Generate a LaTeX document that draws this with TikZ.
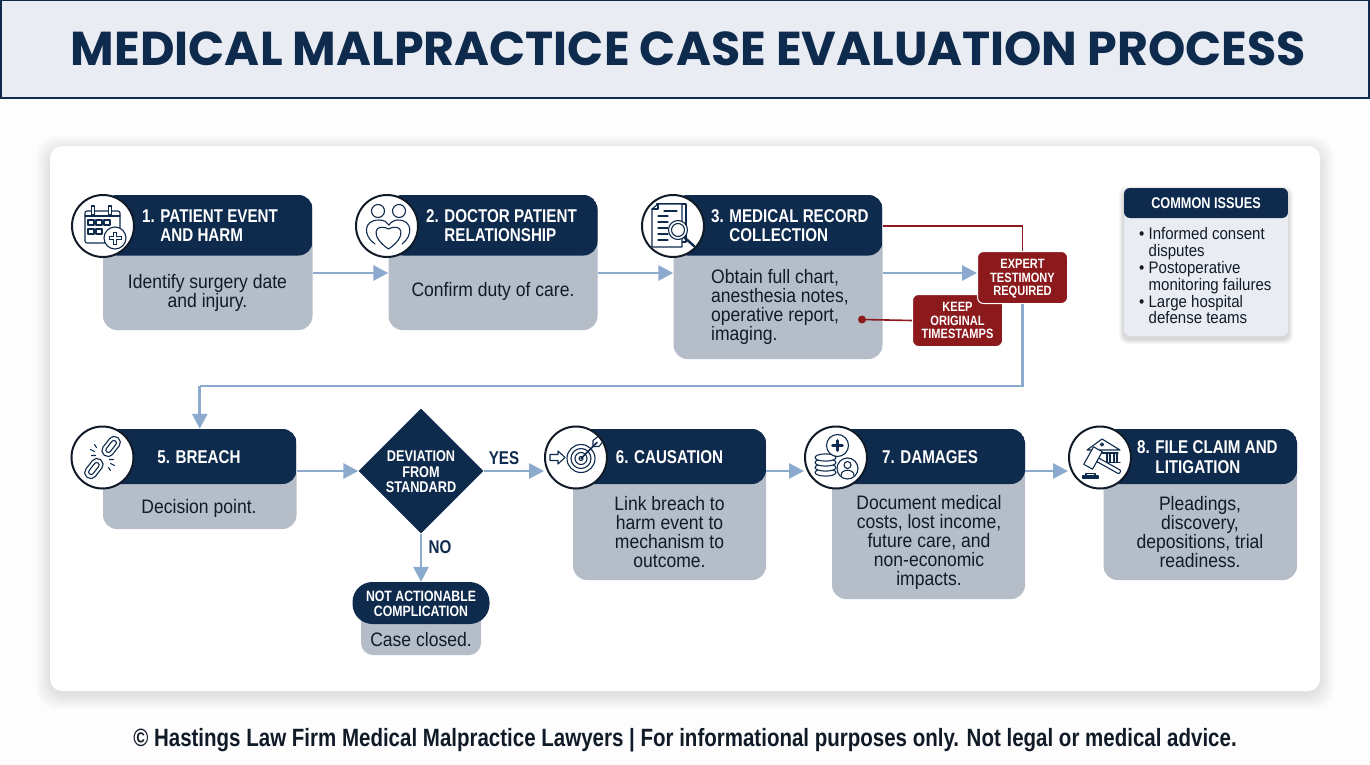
\documentclass[tikz,border=0pt]{standalone}
\usepackage{fontspec}
\usetikzlibrary{arrows.meta,shapes.geometric}
\setmainfont{Liberation Sans}
\newfontfamily\titlefont{Poppins}
\newfontfamily\bodyfont[FakeStretch=0.9]{Liberation Sans}
\newfontfamily\headfont[FakeStretch=0.82]{Liberation Sans}
\definecolor{navy}{HTML}{0E2A4D}
\definecolor{cardgray}{HTML}{B5BDC9}
\definecolor{flowblue}{HTML}{8CA9CE}
\definecolor{alertred}{HTML}{8C1A1C}
\definecolor{barfill}{HTML}{E9EDF3}
\definecolor{pagefill}{HTML}{FDFDFD}
\definecolor{inktext}{HTML}{111B28}
\tikzset{
  cardbody/.style={fill=cardgray, rounded corners=14, inner sep=0, path picture={
    \fill[navy] (path picture bounding box.north west) rectangle ([yshift=-#1]path picture bounding box.north east);}},
  iconring/.style={circle, draw=inktext, fill=white, line width=2, minimum size=62, inner sep=0},
  iconline/.style={draw=navy, line width=1.1, line join=round, line cap=round},
  headtext/.style={text=white, align=left, font=\headfont\bfseries\fontsize{18.5}{19.5}\selectfont, inner sep=0},
  bodytext/.style={text=inktext, align=center, font=\bodyfont\fontsize{19.5}{19}\selectfont, inner sep=0},
  alertbox/.style={fill=alertred, draw=white, line width=1, rounded corners=6, text=white, align=center, inner sep=0,
    font=\headfont\bfseries\fontsize{13.5}{13.8}\selectfont},
  flowline/.style={draw=flowblue, line width=2.8, -{Triangle[width=15,length=15]}},
  flowplain/.style={draw=flowblue, line width=2.8},
  alertline/.style={draw=alertred, line width=1.6},
  branchtext/.style={text=navy, inner sep=0, font=\headfont\bfseries\fontsize{18.5}{19}\selectfont},
}
\begin{document}
\begin{tikzpicture}[x=1pt,y=-1pt]
    \useasboundingbox (0,0) rectangle (1370,765);
    \fill[pagefill] (0,0) rectangle (1370,765);

    \node[fill=barfill, draw=navy, line width=1.6, minimum width=1368, minimum height=98, inner sep=0] (titlebar) at (685,49) {};
    \node[text=navy, inner sep=0, font=\titlefont\bfseries\fontsize{47.5}{49}\selectfont] (titletext) at (688.5,49) {MEDICAL MALPRACTICE CASE EVALUATION PROCESS};

    \foreach \s in {1,...,14}
        \fill[black, opacity=0.007, rounded corners=20] ({50-\s},{146-\s+4}) rectangle ({1320+\s},{691+\s+4});
    \node[fill=white, rounded corners=12, minimum width=1270, minimum height=545, inner sep=0] (panel) at (685,418.5) {};

    \node[cardbody=60.5, minimum width=209.5, minimum height=135] (card1) at (207.75,262.5) {};
    \node[cardbody=60.5, minimum width=209, minimum height=135] (card2) at (493,262.5) {};
    \node[cardbody=60.5, minimum width=209, minimum height=164] (card3) at (778,277) {};
    \node[cardbody=55, minimum width=193.5, minimum height=100] (card5) at (199.75,479) {};
    \node[cardbody=55, minimum width=193, minimum height=151] (card6) at (669.5,504.5) {};
    \node[cardbody=55, minimum width=193, minimum height=170] (card7) at (928.5,514) {};
    \node[cardbody=55, minimum width=193.5, minimum height=151] (card8) at (1200.25,504.5) {};

    \node[iconring] (ring1) at (103,226) {};
    \node[iconring] (ring2) at (387,226) {};
    \node[iconring] (ring3) at (673,226) {};
    \node[iconring] (ring5) at (102.5,457.5) {};
    \node[iconring] (ring6) at (576,457.5) {};
    \node[iconring] (ring7) at (836,457.5) {};
    \node[iconring] (ring8) at (1100,457.5) {};

    \node[diamond, fill=navy, minimum width=125, minimum height=125, inner sep=0] (deviation) at (421,471) {};
    \node[fill=cardgray, rounded corners=12, minimum width=120, minimum height=50, inner sep=0] (closed) at (421,630) {};
    \node[fill=navy, rounded corners=20, minimum width=137, minimum height=42, inner sep=0] (notaction) at (421,603) {};
    \node[alertbox, minimum width=90, minimum height=52] (keep) at (957.5,320.5) {KEEP\\ORIGINAL\\TIMESTAMPS};
    \node[alertbox, minimum width=90, minimum height=52] (expert) at (1022.5,277.5) {\rule{0pt}{12pt}EXPERT\\TESTIMONY\\REQUIRED};

    \coordinate (rowgap) at (199.75,386);
    \coordinate (rowone) at ([yshift=-10.5]card1.east);
    \node[circle, fill=alertred, minimum size=8, inner sep=0] (keepdot) at (862,319.5) {};
    \draw[flowline] (rowone) -- (card2.west |- rowone);
    \draw[flowline] (card2.east |- rowone) -- (card3.west |- rowone);
    \draw[flowline] (card3.east |- rowone) -- (expert.west |- rowone);
    \draw[alertline] (card3.east |- ring3.center) -| (expert.north);
    \draw[alertline] (keepdot) -- (keep.west);
    \draw[flowplain] (expert.south) |- (rowgap);
    \draw[flowline] (rowgap) -- (card5.north);
    \draw[flowline] ([yshift=8]card5.east) -- (deviation.west);
    \draw[flowline] (deviation.east) -- (ring6.west |- deviation.east);
    \draw[flowline] (deviation.south) -- (notaction.north);
    \draw[flowline] (card6.east |- deviation.east) -- (ring7.west |- deviation.east);
    \draw[flowline] (card7.east |- deviation.east) -- (ring8.west |- deviation.east);

    \node[headtext, anchor=west] (head1) at (142,225.5) {1. PATIENT EVENT\\\phantom{1. }AND HARM};
    \node[headtext, anchor=west] (head2) at (426,225.5) {2. DOCTOR PATIENT\\\phantom{2. }RELATIONSHIP};
    \node[headtext, anchor=west] (head3) at (711,225.5) {3. MEDICAL RECORD\\\phantom{3. }COLLECTION};
    \node[headtext] (head5) at (199,457) {5. BREACH};
    \node[headtext] (head6) at (669.5,457) {6. CAUSATION};
    \node[headtext] (head7) at (930,457) {7. DAMAGES};
    \node[headtext, anchor=west] (head8) at (1137,457) {8. FILE CLAIM AND\\\phantom{8. }LITIGATION};

    \node[bodytext] (text1) at (207.5,293) {Identify surgery date\\and injury.};
    \node[bodytext] (text2) at (493,291) {Confirm duty of care.};
    \node[bodytext, align=left, anchor=west] (text3) at (711,306.5) {Obtain full chart,\\anesthesia notes,\\operative report,\\imaging.};
    \node[bodytext] (text5) at (199,508) {Decision point.};
    \node[bodytext] (text6) at (669.5,532) {Link breach to\\harm event to\\mechanism to\\outcome.};
    \node[bodytext] (text7) at (929,542) {Document medical\\costs, lost income,\\future care, and\\non-economic\\impacts.};
    \node[bodytext] (text8) at (1200,532) {Pleadings,\\discovery,\\depositions, trial\\readiness.};

    \node[text=white, align=center, inner sep=0, font=\headfont\bfseries\fontsize{15.5}{15.5}\selectfont] (devtext) at (421,472) {DEVIATION\\FROM\\STANDARD};
    \node[branchtext] (yes) at (504,458) {YES};
    \node[branchtext] (no) at (440,547) {NO};
    \node[text=white, align=center, inner sep=0, font=\headfont\bfseries\fontsize{15}{15.5}\selectfont] (nottext) at (421,604) {NOT ACTIONABLE\\COMPLICATION};
    \node[bodytext] (closedtext) at (421,640) {Case closed.};

    \foreach \s in {1,...,5}
        \fill[black, opacity=0.03, rounded corners=8] ({1124-\s},{188-\s+3}) rectangle ({1288+\s},{336+\s+3});
    \node[cardbody=30, fill=barfill, rounded corners=6, minimum width=164, minimum height=148] (issues) at (1206,262) {};
    \node[headtext, font=\headfont\bfseries\fontsize{15.5}{16}\selectfont] (issuehead) at (1206,203) {COMMON ISSUES};
    \node[bodytext, align=left, anchor=north west, font=\bodyfont\fontsize{16.7}{16.8}\selectfont] (issuelist) at (1139,227.5) {
        \textbullet\ Informed consent\\\phantom{\textbullet\ }disputes\\
        \textbullet\ Postoperative\\\phantom{\textbullet\ }monitoring failures\\
        \textbullet\ Large hospital\\\phantom{\textbullet\ }defense teams};

    \node[text=inktext, inner sep=0, font=\headfont\bfseries\fontsize{25}{27}\selectfont] (footer) at (685,740) {© Hastings Law Firm Medical Malpractice Lawyers | For informational purposes only. Not legal or medical advice.};

    \begin{scope}[shift={(ring1.center)}]
        \draw[iconline, rounded corners=2] (-18,-15) rectangle (17,17);
        \draw[iconline] (-18,-10) -- (17,-10);
        \draw[iconline, fill=white] (-11.5,-20) rectangle (-8.5,-11);
        \draw[iconline, fill=white] (5.5,-20) rectangle (8.5,-11);
        \foreach \a in {-15,-7,1} \draw[iconline] (\a,-6) rectangle ++(6,5);
        \foreach \a in {-15,-7} \draw[iconline] (\a,3) rectangle ++(6,5);
        \draw[iconline, fill=white] (12,12) circle (11);
        \draw[iconline, line width=4.6, line cap=butt] (12,5.5) -- (12,18.5) (5.5,12) -- (18.5,12);
        \draw[white, line width=2.4, line cap=butt] (12,6.5) -- (12,17.5) (6.5,12) -- (17.5,12);
    \end{scope}
    \begin{scope}[shift={(ring2.center)}]
        \draw[iconline] (-9,-15) circle (6.5);
        \draw[iconline] (12,-15) circle (6.5);
        \draw[iconline] (-12,18) .. controls (-24,10) and (-24,-6) .. (-8,-6) .. controls (-3,-6) and (0,-4) .. (2,-1);
        \draw[iconline] (15,18) .. controls (26,10) and (26,-6) .. (11,-6) .. controls (7,-6) and (4,-4) .. (2,-1);
        \draw[iconline, fill=white] (1.5,23) .. controls (-18,10) and (-12,-4) .. (1.5,3) .. controls (15,-4) and (21,10) .. (1.5,23) -- cycle;
    \end{scope}
    \begin{scope}[shift={(ring3.center)}]
        \draw[iconline] (-16,-22) rectangle (13,16);
        \draw[iconline, fill=white] (-21,-17) -- (-21,21) -- (9,21) -- (9,-22) -- (-15,-22) -- cycle;
        \draw[iconline] (-15,-22) -- (-15,-17) -- (-21,-17);
        \foreach \a in {-10,-4,2,8,14} \draw[iconline] (-15,\a) -- (-5,\a);
        \draw[iconline] (-9,-15) -- (4,-15);
        \draw[iconline, line width=2.4] (11,11) -- (21,20);
        \draw[iconline, fill=white] (5,4) circle (9.5);
        \draw[iconline] (5,4) circle (6.5);
    \end{scope}
    \begin{scope}[shift={(ring5.center)}]
        \draw[iconline, rotate=52, shift={(14,0)}, rounded corners=5.5] (-11,-6) rectangle (11,6);
        \draw[iconline, rotate=52, shift={(14,0)}, rounded corners=2.5] (-7,-2.5) rectangle (7,2.5);
        \draw[iconline, rotate=52, shift={(-14,0)}, rounded corners=5.5] (-11,-6) rectangle (11,6);
        \draw[iconline, rotate=52, shift={(-14,0)}, rounded corners=2.5] (-7,-2.5) rectangle (7,2.5);
        \draw[iconline] (-12,-8) -- (-8,-6) (-11,-2) -- (-7,-2) (-8,-13) -- (-6,-10);
        \draw[iconline] (12,8) -- (8,6) (11,2) -- (7,2) (8,13) -- (6,10);
    \end{scope}
    \begin{scope}[shift={(ring6.center)}]
        \draw[iconline] (-26,-3) -- (-18,-3) -- (-18,-6.5) -- (-11,0) -- (-18,6.5) -- (-18,3) -- (-26,3) -- cycle;
        \foreach \r in {14,10,6,2} \draw[iconline] (5,1) circle (\r);
        \draw[iconline, line width=1.6] (5,1) -- (21,-15);
        \draw[iconline] (17,-11) -- (17,-17) -- (22,-21) (17,-11) -- (23,-11) -- (27,-16);
    \end{scope}
    \begin{scope}[shift={(ring7.center)}]
        \foreach \a in {15,10,5,0} \draw[iconline, fill=white] (-10.5,\a) ellipse (10.5 and 3.6);
        \draw[iconline, fill=white] (1.5,-12) circle (11);
        \draw[iconline, line width=2.8] (1.5,-17) -- (1.5,-7) (-3.5,-12) -- (6.5,-12);
        \draw[iconline, fill=white] (11.5,11) circle (10.5);
        \draw[iconline] (11.5,7.5) circle (3.5);
        \draw[iconline] (5,18) .. controls (5,11) and (18,11) .. (18,18);
    \end{scope}
    \begin{scope}[shift={(ring8.center)}]
        \draw[iconline] (-13,-7.5) -- (2,-18.5) -- (20,-7.5) -- cycle;
        \draw[iconline] (2,-13) circle (1.5);
        \draw[iconline] (-9,-4.5) -- (18,-4.5);
        \foreach \a in {-6,-2,7,10,14,17} \draw[iconline] (\a,-4.5) -- (\a,5);
        \draw[iconline] (4,5) -- (20,5);
        \draw[iconline, fill=white, rounded corners=1] (-4,-1) -- (21,13) -- (19,16.5) -- (-6,2.5) -- cycle;
        \draw[iconline, fill=white, shift={(-7,0.5)}, rotate=-29] (-5,-10) rectangle (5,10);
        \draw[iconline, fill=navy] (-17,21) rectangle (-2,18.5);
        \draw[iconline, fill=white] (-14,18.5) rectangle (-5,16);
    \end{scope}
\end{tikzpicture}
\end{document}
